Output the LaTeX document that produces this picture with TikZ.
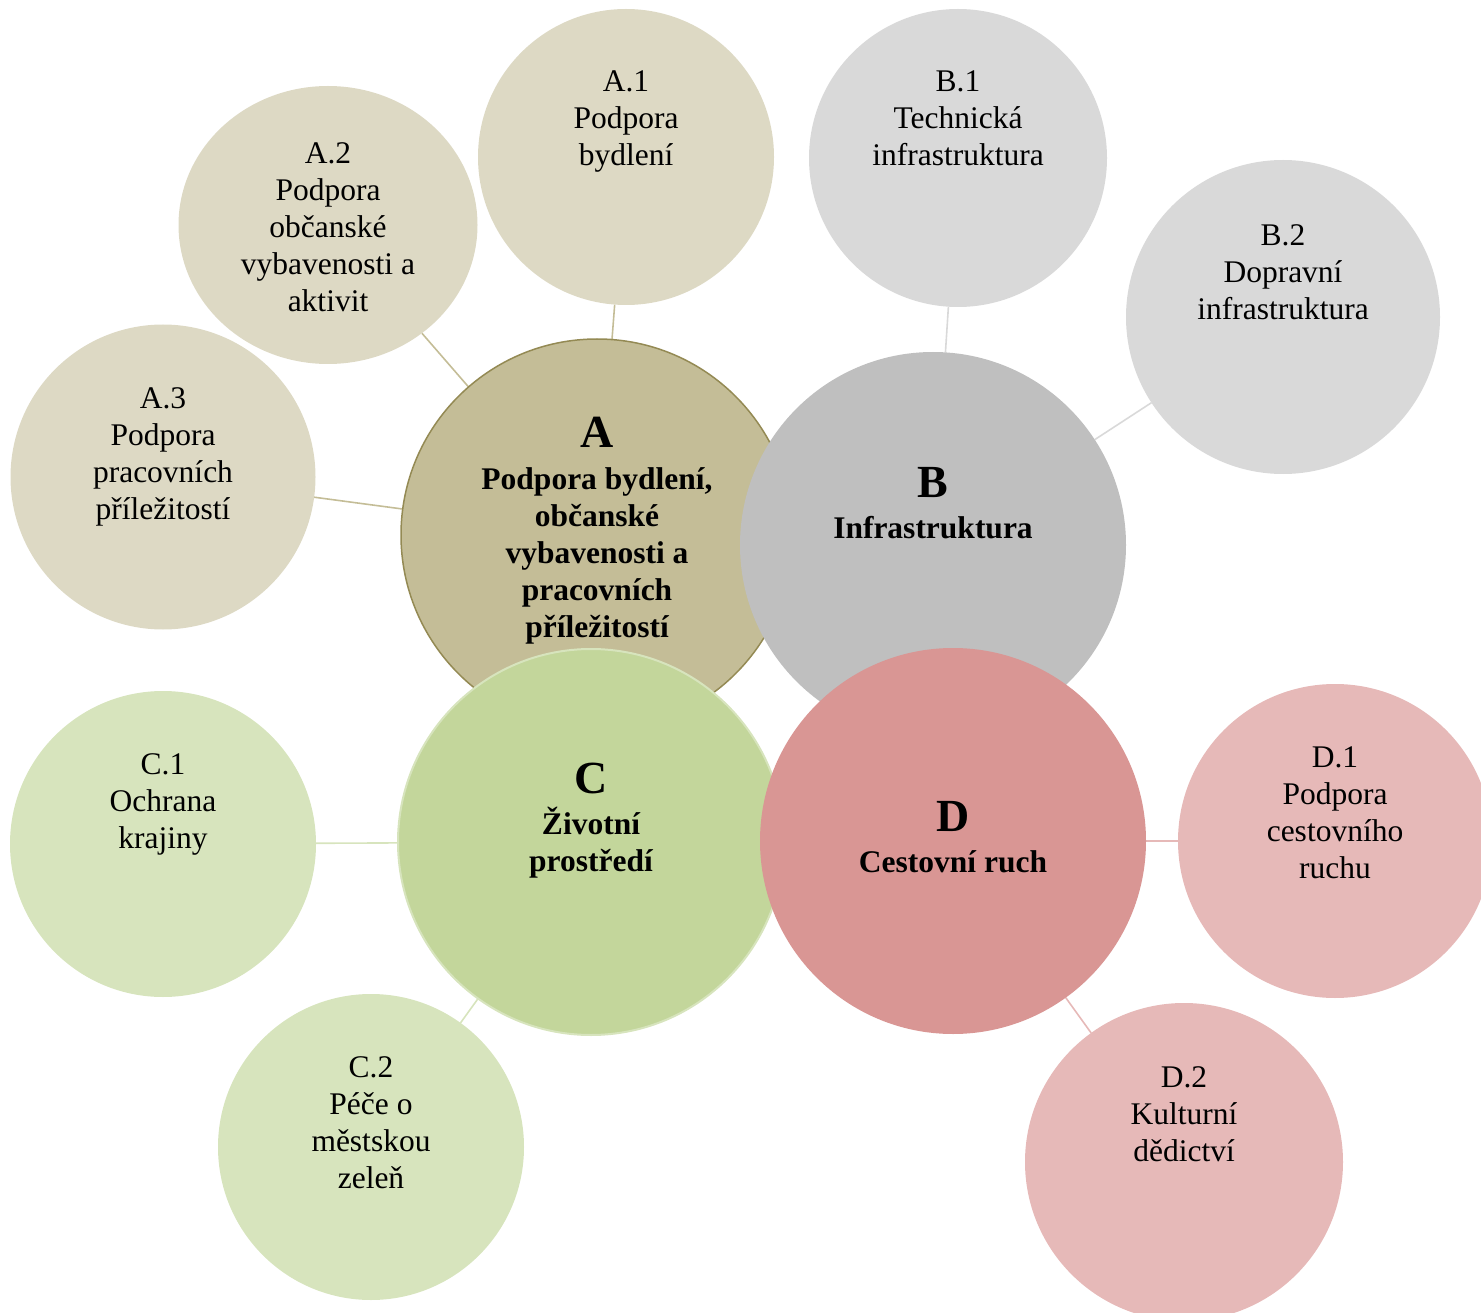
\documentclass[tikz,border=0pt]{standalone}
\usepackage{fontspec}
\setmainfont{Liberation Serif}
\usepackage{xcolor}
\usetikzlibrary{shapes.geometric,backgrounds}
\definecolor{amain}{HTML}{C4BD97}
\definecolor{aedge}{HTML}{948A54}
\definecolor{asub}{HTML}{DDD9C4}
\definecolor{bmain}{HTML}{BFBFBF}
\definecolor{bsub}{HTML}{D9D9D9}
\definecolor{cmain}{HTML}{C3D69B}
\definecolor{csub}{HTML}{D7E4BD}
\definecolor{dmain}{HTML}{D99694}
\definecolor{dsub}{HTML}{E6B9B8}
\newcommand{\mainletter}[1]{{\fontsize{46}{46}\selectfont #1}}

\begin{document}
\begin{tikzpicture}[x=1pt,y=-1pt,
	main/.style={circle,inner sep=0pt,outer sep=0pt,minimum size=386},
	sub/.style={circle,inner sep=0pt,outer sep=0pt},
	subtext/.style={anchor=north,align=center,inner sep=0pt,font=\fontsize{31.5}{37}\selectfont},
	maintext/.style={anchor=north,align=center,inner sep=0pt,font=\bfseries\fontsize{31.5}{37}\selectfont},
	link/.style={line width=1.6pt}]
	
	\useasboundingbox (0,0) rectangle (1481,1313);
	
	\node[sub,fill=asub,minimum size=296] (a1) at (626,157) {};
	\node[ellipse,inner sep=0pt,outer sep=0pt,fill=asub,minimum width=299,minimum height=278] (a2) at (328,225) {};
	\node[sub,fill=asub,minimum size=305] (a3) at (163,477) {};
	\node[sub,fill=bsub,minimum size=298] (b1) at (958,158) {};
	\node[sub,fill=bsub,minimum size=314] (b2) at (1283,317) {};
	\node[sub,fill=csub,minimum size=306] (c1) at (163,844) {};
	\node[sub,fill=csub,minimum size=306] (c2) at (371,1147) {};
	\node[sub,fill=dsub,minimum size=314] (d1) at (1335,841) {};
	\node[sub,fill=dsub,minimum size=318] (d2) at (1184,1162) {};
	
	\node[main,fill=amain,draw=aedge,line width=1.5pt,minimum size=392] (a) at (597,535) {};
	\node[main,fill=bmain] (b) at (933,545) {};
	\node[main,fill=cmain,draw=csub,line width=2pt] (c) at (591,842) {};
	\node[main,fill=dmain] (d) at (953,841) {};
	
	\begin{scope}[on background layer]
	\path[link,draw=amain] (a1) edge (a)
	      (a2) edge (a)
	      (a3) edge (a);
	\path[link,draw=bsub] (b1) edge (b)
	      (b2) edge (b);
	\path[link,draw=csub] (c1) edge (c)
	      (c2) edge (c);
	\path[link,draw=dsub] (d1) edge (d)
	      (d2) edge (d);
	\end{scope}
	
	\node[maintext] (at) at ([yshift=118pt]a.center) {\mainletter{A}\\[5pt]Podpora bydlení,\\občanské\\vybavenosti a\\pracovních\\příležitostí};
	\node[maintext] (bt) at ([yshift=78pt]b.center) {\mainletter{B}\\[4pt]Infrastruktura};
	\node[maintext] (ct) at ([yshift=79pt]c.center) {\mainletter{C}\\[4pt]Životní\\prostředí};
	\node[maintext] (dt) at ([yshift=40pt]d.center) {\mainletter{D}\\[4pt]Cestovní ruch};
	
	\node[subtext] (a1t) at ([yshift=-62pt]a1.north) {A.1\\Podpora\\bydlení};
	\node[subtext] (a2t) at ([yshift=-56pt]a2.north) {A.2\\Podpora\\občanské\\vybavenosti a\\aktivit};
	\node[subtext] (a3t) at ([yshift=-63pt]a3.north) {A.3\\Podpora\\pracovních\\příležitostí};
	\node[subtext] (b1t) at ([yshift=-62pt]b1.north) {B.1\\Technická\\infrastruktura};
	\node[subtext] (b2t) at ([yshift=-64pt]b2.north) {B.2\\Dopravní\\infrastruktura};
	\node[subtext] (c1t) at ([yshift=-62pt]c1.north) {C.1\\Ochrana\\krajiny};
	\node[subtext] (c2t) at ([yshift=-62pt]c2.north) {C.2\\Péče o\\městskou\\zeleň};
	\node[subtext] (d1t) at ([yshift=-63pt]d1.north) {D.1\\Podpora\\cestovního\\ruchu};
	\node[subtext] (d2t) at ([yshift=-63pt]d2.north) {D.2\\Kulturní\\dědictví};
\end{tikzpicture}
\end{document}
